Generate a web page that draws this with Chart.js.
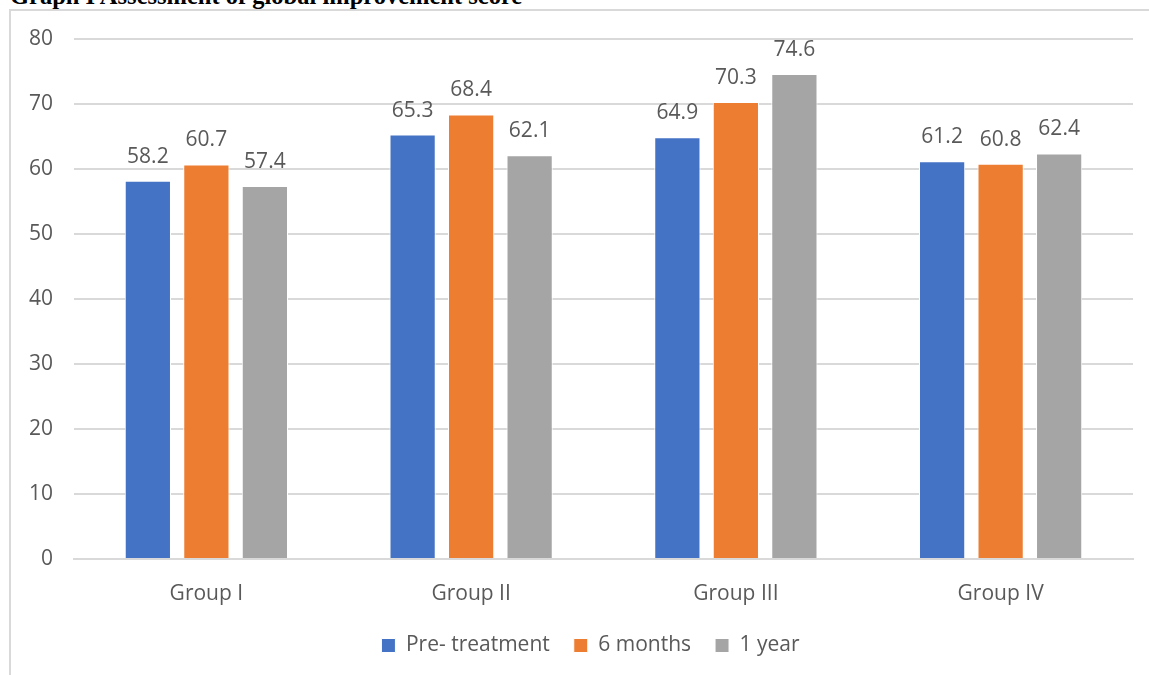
<!DOCTYPE html>
<html lang="en">
<head>
  <meta charset="UTF-8" />
  <title>Graph I Assessment of global improvement score</title>
  <script src="https://cdn.jsdelivr.net/npm/chart.js"></script>
  <style>
    html, body { margin: 0; padding: 0; background: #fff; overflow: hidden; }
    #title {
      position: absolute; left: 10px; top: -16.5px;
      font: bold 24.5px "Liberation Serif", "Times New Roman", serif;
      line-height: 24.5px; color: #000; white-space: nowrap;
    }
    #frame {
      position: absolute; left: 9px; top: 9px; width: 1200px; height: 800px;
      border: 2px solid #d9d9d9; box-sizing: border-box;
    }
    #wrap { position: absolute; left: 0; top: 0; width: 1149px; height: 675px; }
  </style>
</head>
<body>
  <div id="title">Graph I Assessment of global improvement score</div>
  <div id="frame"></div>
  <div id="wrap"><canvas id="scoreChart"></canvas></div>

  <script>
    const groups = ["Group I", "Group II", "Group III", "Group IV"];
    const preTreatment = [58.2, 65.3, 64.9, 61.2];
    const sixMonths = [60.7, 68.4, 70.3, 60.8];
    const oneYear = [57.4, 62.1, 74.6, 62.4];
    const yTicks = [0, 10, 20, 30, 40, 50, 60, 70, 80];

    const textColor = "#595959";
    const fontFamily = '"Open Sans", "Segoe UI", sans-serif';

    // draws the value above each bar (like Excel data labels)
    const valueLabels = {
      id: "valueLabels",
      afterDatasetsDraw(chart) {
        const ctx = chart.ctx;
        ctx.save();
        ctx.font = "21px " + fontFamily;
        ctx.fillStyle = textColor;
        ctx.textAlign = "center";
        ctx.textBaseline = "alphabetic";
        chart.data.datasets.forEach((ds, i) => {
          chart.getDatasetMeta(i).data.forEach((bar, j) => {
            ctx.fillText(ds.data[j].toFixed(1), bar.x, bar.y - 18);
          });
        });
        ctx.restore();
      }
    };

    // the legend sits a little right of centre in the original
    const legendShift = {
      id: "legendShift",
      afterLayout(chart) {
        chart.legend.left += 24;
        chart.legend.right += 24;
      }
    };

    new Chart(document.getElementById("scoreChart"), {
      type: "bar",
      data: {
        labels: groups,
        datasets: [
          { label: "Pre- treatment", data: preTreatment, backgroundColor: "#4472C4" },
          { label: "6 months", data: sixMonths, backgroundColor: "#ED7D31" },
          { label: "1 year", data: oneYear, backgroundColor: "#A5A5A5" }
        ]
      },
      options: {
        responsive: true,
        maintainAspectRatio: false,
        animation: false,
        datasets: {
          bar: {
            categoryPercentage: 0.663,
            barPercentage: 0.79,
            borderWidth: 1,
            borderColor: "#ffffff"
          }
        },
        layout: { padding: { top: 39, right: 16, bottom: 9, left: 0 } },
        plugins: {
          tooltip: { enabled: false },
          legend: {
            position: "bottom",
            labels: {
              boxWidth: 14,
              boxHeight: 14,
              padding: 24,
              color: textColor,
              font: { family: fontFamily, size: 21 }
            }
          }
        },
        scales: {
          x: {
            afterFit(scale) { scale.height = 52; },
            grid: { display: false },
            border: { color: "#d9d9d9", width: 2 },
            ticks: { color: textColor, font: { family: fontFamily, size: 21 }, padding: 14 }
          },
          y: {
            min: 0,
            max: 80,
            afterFit(scale) { scale.width = 74; },
            afterBuildTicks(scale) { scale.ticks = yTicks.map(v => ({ value: v })); },
            grid: { color: "#d9d9d9", lineWidth: 2, drawTicks: false },
            border: { display: false },
            ticks: { color: textColor, font: { family: fontFamily, size: 21 }, padding: 21 }
          }
        }
      },
      plugins: [valueLabels, legendShift]
    });
  </script>
</body>
</html>
